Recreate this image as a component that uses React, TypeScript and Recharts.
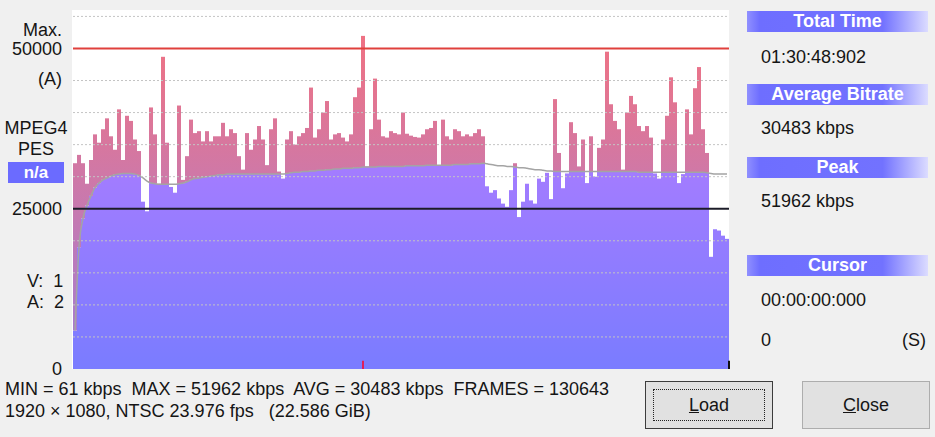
import React from "react";
import { ComposedChart, Bar, Line, XAxis, YAxis, ReferenceLine } from "recharts";

// kbps per time slice (164 slices across the whole file)
const bitrate = [
  32100, 33400, 32100, 28900, 32600, 36600, 35300, 37400, 39100, 36300,
  34200, 40500, 32600, 39500, 38700, 35800, 34000, 26100, 24600, 40800,
  36600, 28900, 48700, 35300, 28400, 27500, 41100, 29500, 33200, 38900,
  36800, 37100, 35500, 37100, 35500, 36300, 36300, 38400, 36300, 37400,
  36800, 33200, 31100, 36800, 34200, 35800, 37900, 35800, 31800, 37400,
  39100, 30800, 29700, 35800, 37100, 35000, 36300, 36800, 37600, 43900,
  36100, 37400, 40000, 41800, 35800, 36600, 36800, 36100, 35500, 36600,
  42400, 43900, 51962, 31600, 37400, 45300, 38900, 36300, 36100, 37100,
  36800, 36600, 40000, 36700, 36400, 36200, 36100, 36600, 37400, 37600,
  38700, 31800, 38900, 36300, 35800, 37400, 37100, 36300, 36600, 36300,
  36800, 37400, 36300, 28500, 27500, 27900, 26600, 25800, 25300, 27900,
  32100, 23700, 26100, 28900, 26300, 25800, 29700, 29200, 30600, 26500,
  42100, 33700, 28200, 30500, 38500, 36800, 31600, 35800, 29000, 36300,
  30000, 34500, 35800, 49500, 41300, 38700, 37400, 31100, 40000, 42600,
  41300, 37900, 37100, 37900, 36100, 30500, 29700, 35800, 39500, 45500,
  41600, 29000, 30400, 40500, 36600, 43800, 47100, 37400, 33700, 17500,
  21800, 21600, 20800, 20300,
];

// running average curve (grey line), kbps, one value per slice
const average = [
  6000, 19000, 23500, 25500, 27000, 28300, 29000, 29500, 29800, 30100,
  30300, 30400, 30500, 30500, 30500, 30400, 30200, 29800, 29300, 29000,
  28900, 28800, 28800, 28800, 28800, 28800, 28900, 29000, 29200, 29500,
  29700, 29800, 29900, 30000, 30100, 30200, 30300, 30300, 30400, 30400,
  30400, 30400, 30400, 30400, 30400, 30400, 30400, 30400, 30400, 30400,
  30400, 30400, 30400, 30500, 30600, 30700, 30700, 30800, 30800, 30900,
  30900, 31000, 31000, 31100, 31100, 31200, 31200, 31300, 31300, 31300,
  31400, 31400, 31500, 31500, 31500, 31500, 31600, 31600, 31600, 31600,
  31600, 31600, 31600, 31700, 31700, 31700, 31700, 31700, 31800, 31800,
  31800, 31800, 31800, 31800, 31800, 31900, 31900, 31900, 31900, 32000,
  32000, 32000, 32100, 32000, 31900, 31800, 31700, 31700, 31600, 31600,
  31500, 31400, 31400, 31300, 31200, 31100, 31100, 31000, 30900, 30900,
  30800, 30800, 30800, 30800, 30800, 30800, 30800, 30800, 30800, 30800,
  30800, 30800, 30800, 30800, 30800, 30800, 30800, 30800, 30800, 30800,
  30800, 30700, 30700, 30700, 30700, 30700, 30700, 30700, 30700, 30700,
  30700, 30700, 30700, 30700, 30700, 30700, 30700, 30700, 30600, 30500,
  30400, 30400, 30400, 30400,
];

const gridLevels = [5000, 10000, 15000, 20000, 30000, 35000, 40000, 45000, 55000];
const axisTicks = [0, 25000, 50000];
const maxLine = 50000;
const midLine = 25000;

const rows = bitrate.map((kbps, i) => ({
  idx: i,
  below: Math.min(kbps, average[i]),
  above: Math.max(0, kbps - average[i]),
  avg: average[i],
}));
const peakIdx = bitrate.indexOf(Math.max(...bitrate));

const FONT = '"Liberation Sans", Arial, sans-serif';
const INK = "#151515";

const Txt = ({ x, y, w, align = "left", size = 18, bold = false, children }: any) => (
  <div
    style={{
      position: "absolute",
      left: x,
      top: y - 11,
      width: w,
      height: 22,
      lineHeight: "22px",
      textAlign: align,
      fontSize: size,
      fontWeight: bold ? "bold" : "normal",
      color: INK,
      whiteSpace: "pre",
    }}
  >
    {children}
  </div>
);

const Header = ({ y, children }: any) => (
  <div
    style={{
      position: "absolute",
      left: 747,
      top: y,
      width: 181,
      height: 21,
      lineHeight: "21px",
      textAlign: "center",
      fontSize: 18,
      fontWeight: "bold",
      color: "#fff",
      background: "linear-gradient(to right, #9090ff 0%, #6e6eff 7%, #7272ff 75%, #dcdcff 100%)",
    }}
  >
    {children}
  </div>
);

const Button = ({ x, label, focused }: any) => (
  <div
    style={{
      position: "absolute",
      left: x,
      top: 381,
      width: 126,
      height: 46,
      background: "#e1e1e1",
      border: focused ? "1px solid #3c3c3c" : "1px solid #adadad",
      boxSizing: "content-box",
      fontSize: 18,
      color: INK,
      textAlign: "center",
      lineHeight: "46px",
    }}
  >
    {focused && (
      <div
        style={{
          position: "absolute",
          left: 7,
          top: 7,
          right: 7,
          bottom: 7,
          border: "1px dotted #222",
        }}
      />
    )}
    <span style={{ textDecoration: "underline" }}>{label[0]}</span>
    {label.slice(1)}
  </div>
);

export default function App() {
  return (
    <div
      style={{
        position: "absolute",
        left: 0,
        top: 0,
        width: 935,
        height: 437,
        background: "#f0f0f0",
        overflow: "hidden",
        fontFamily: FONT,
      }}
    >
      <div style={{ position: "absolute", left: 72, top: 10, width: 657, height: 359, background: "#fff" }} />

      <ComposedChart
        width={935}
        height={437}
        data={rows}
        margin={{ top: 10, right: 206, bottom: 68, left: 0 }}
        barCategoryGap={0}
        barGap={0}
        style={{ position: "absolute", left: 0, top: 0, fontFamily: FONT }}
      >
        <defs>
          <linearGradient id="lowFill" gradientUnits="userSpaceOnUse" x1="0" y1="10" x2="0" y2="369">
            <stop offset="0.35" stopColor="#aa7cff" />
            <stop offset="1" stopColor="#7a7cff" />
          </linearGradient>
          <linearGradient id="highFill" gradientUnits="userSpaceOnUse" x1="0" y1="10" x2="0" y2="369">
            <stop offset="0" stopColor="#f4707e" />
            <stop offset="0.25" stopColor="#e27592" />
            <stop offset="0.45" stopColor="#d078a6" />
            <stop offset="1" stopColor="#a07cd8" />
          </linearGradient>
        </defs>
        <XAxis dataKey="idx" type="category" hide />
        <YAxis
          width={73}
          domain={[0, 56000]}
          ticks={axisTicks}
          interval={0}
          axisLine={false}
          tickLine={false}
          tickMargin={5}
          tick={{ fontSize: 18, fill: INK }}
        />
        <Bar dataKey="below" stackId="s" fill="url(#lowFill)" isAnimationActive={false} />
        <Bar dataKey="above" stackId="s" fill="url(#highFill)" isAnimationActive={false} />
        <Line
          dataKey="avg"
          type="monotone"
          stroke="#a4a4a4"
          strokeWidth={1.5}
          dot={false}
          isAnimationActive={false}
        />
        {gridLevels.map((v) => (
          <ReferenceLine key={v} y={v} stroke="#c4c4c4" strokeDasharray="2 2" strokeWidth={1} />
        ))}
        <ReferenceLine y={midLine} stroke="#1c1c28" strokeWidth={2} />
        <ReferenceLine y={maxLine} stroke="#e0403c" strokeWidth={2} />
        <ReferenceLine
          segment={[{ x: peakIdx, y: 0 }, { x: peakIdx, y: 1300 }]}
          stroke="#e0205a"
          strokeWidth={2}
        />
        <ReferenceLine
          segment={[{ x: rows.length - 1, y: 0 }, { x: rows.length - 1, y: 1300 }]}
          position="end"
          stroke="#111"
          strokeWidth={2}
        />
      </ComposedChart>

      {/* left side labels */}
      <Txt x={0} y={30} w={62} align="right">Max.</Txt>
      <Txt x={0} y={79} w={62} align="right">(A)</Txt>
      <Txt x={0} y={128} w={72} align="center">MPEG4</Txt>
      <Txt x={0} y={149} w={72} align="center">PES</Txt>
      <div
        style={{
          position: "absolute",
          left: 8,
          top: 162,
          width: 56,
          height: 21,
          lineHeight: "21px",
          background: "#6b6bff",
          color: "#fff",
          fontWeight: "bold",
          fontSize: 17,
          textAlign: "center",
        }}
      >
        n/a
      </div>
      <Txt x={27} y={281}>{"V:  1"}</Txt>
      <Txt x={27} y={302}>{"A:  2"}</Txt>

      {/* right panel */}
      <Header y={11}>Total Time</Header>
      <Txt x={761} y={57}>01:30:48:902</Txt>
      <Header y={84}>Average Bitrate</Header>
      <Txt x={761} y={128}>30483 kbps</Txt>
      <Header y={157}>Peak</Header>
      <Txt x={761} y={201}>51962 kbps</Txt>
      <Header y={255}>Cursor</Header>
      <Txt x={761} y={300}>00:00:00:000</Txt>
      <Txt x={761} y={340}>0</Txt>
      <Txt x={880} y={340} w={46} align="right">(S)</Txt>

      {/* bottom info */}
      <Txt x={5} y={389}>{"MIN = 61 kbps  MAX = 51962 kbps  AVG = 30483 kbps  FRAMES = 130643"}</Txt>
      <Txt x={5} y={411}>{"1920 × 1080, NTSC 23.976 fps   (22.586 GiB)"}</Txt>

      <Button x={645} label="Load" focused />
      <Button x={802} label="Close" />
    </div>
  );
}
